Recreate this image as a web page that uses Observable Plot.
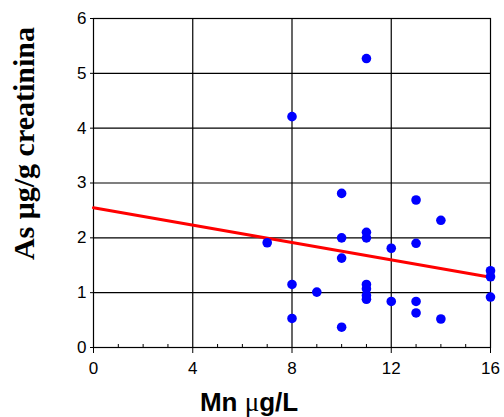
<!DOCTYPE html>
<html>
<head>
<meta charset="utf-8">
<script src="https://cdn.jsdelivr.net/npm/d3@7"></script>
<script src="https://cdn.jsdelivr.net/npm/@observablehq/plot@0.6"></script>
<style>
  html, body { margin: 0; padding: 0; background: white; }
</style>
</head>
<body>
<div id="chart"></div>
<script>
// Mn (µg/L) values of each subject
const mnValues = [10, 13, 14, 7, 10, 11, 11, 12, 13, 10, 16, 16, 8, 9, 11, 11, 11, 11, 12, 13, 16, 13, 8, 14, 10, 11, 8];
// As (µg/g creatinina) values of each subject
const asValues = [2.81, 2.69, 2.32, 1.91, 2.0, 2.10, 2.0, 1.81, 1.90, 1.63, 1.40, 1.29, 1.15, 1.01, 1.15, 1.07, 0.95, 0.88, 0.84, 0.84, 0.92, 0.63, 0.53, 0.52, 0.37, 5.27, 4.21];
// Trend line end points
const trendX = [0, 16];
const trendY = [2.55, 1.28];
// Axis ticks
const xTicks = [0, 4, 8, 12, 16];
const xMinorTicks = [1, 2, 3, 5, 6, 7, 9, 10, 11, 13, 14, 15];
const yTicks = [0, 1, 2, 3, 4, 5, 6];
const xGrid = [4, 8, 12];
const yGrid = [1, 2, 3, 4, 5];
const xLabelParts = ["Mn ", "\u03BC", "g/L"];
const yLabel = "As \u03BCg/g creatinina";

const points = mnValues.map((x, i) => ({x, y: asValues[i]}));
const trend = trendX.map((x, i) => ({x, y: trendY[i]}));

const svg = Plot.plot({
  width: 504,
  height: 417,
  marginLeft: 93,
  marginRight: 14,
  marginTop: 18,
  marginBottom: 70,
  style: {fontFamily: "Arial, 'Liberation Sans', sans-serif", fontSize: "17px", background: "white", color: "black", overflow: "visible"},
  x: {domain: [0, 16]},
  y: {domain: [0, 6]},
  marks: [
    Plot.gridX(xGrid, {stroke: "black", strokeOpacity: 1, strokeWidth: 1.2}),
    Plot.gridY(yGrid, {stroke: "black", strokeOpacity: 1, strokeWidth: 1.2}),
    Plot.frame({stroke: "black", strokeWidth: 1.2}),
    Plot.ruleX(xMinorTicks, {x: d => d, insetTop: 326, stroke: "black"}),
    Plot.axisX({ticks: xTicks, tickSize: 6, tickPadding: 8, tickFormat: d3.format("d"), label: null, stroke: "black"}),
    Plot.axisY({ticks: yTicks, tickSize: 3, tickPadding: 4, tickFormat: d3.format("d"), label: null, stroke: "black"}),
    Plot.line(trend, {x: "x", y: "y", stroke: "#ff0000", strokeWidth: 3}),
    Plot.dot(points, {x: "x", y: "y", r: 4.8, fill: "#0000ff", stroke: "none"})
  ]
});

const s = d3.select(svg);
s.append("text")
  .attr("transform", "translate(34,143.5) rotate(-90)")
  .attr("text-anchor", "middle")
  .style("font", "bold 30px 'Liberation Serif', 'Times New Roman', serif")
  .attr("fill", "black")
  .text(yLabel);
const xl = s.append("text")
  .attr("x", 249)
  .attr("y", 411)
  .attr("text-anchor", "middle")
  .style("font", "bold 26px Arial, 'Liberation Sans', sans-serif")
  .attr("fill", "black");
xl.append("tspan").text(xLabelParts[0]);
xl.append("tspan").style("font", "normal 27px 'Liberation Serif', 'Times New Roman', serif").text(xLabelParts[1]);
xl.append("tspan").text(xLabelParts[2]);

document.getElementById("chart").appendChild(svg);
</script>
</body>
</html>
